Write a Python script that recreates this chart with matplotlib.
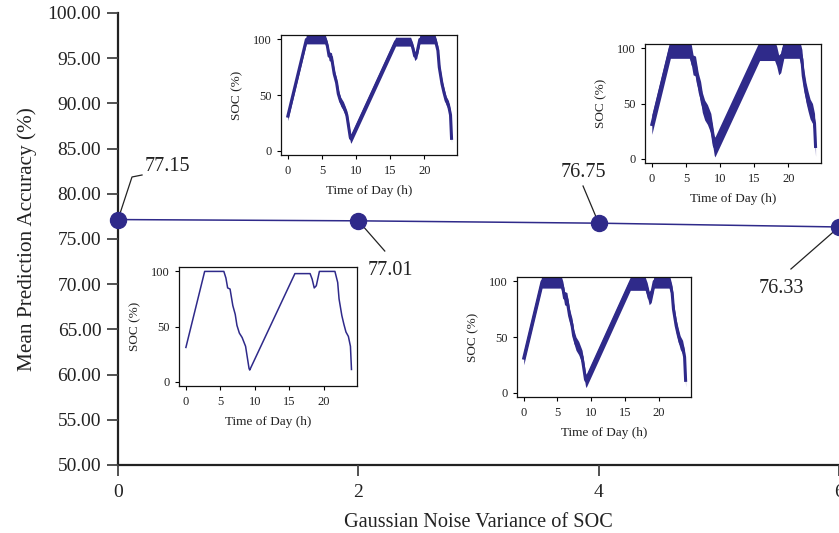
import matplotlib
matplotlib.use('Agg')
import matplotlib.pyplot as plt
import numpy as np

# ---------------- data ----------------
variance = [0, 2, 4, 6]
accuracy = [77.15, 77.01, 76.75, 76.33]
acc_labels = ['77.15', '77.01', '76.75', '76.33']

y_ticks = [50, 55, 60, 65, 70, 75, 80, 85, 90, 95, 100]
x_ticks = [0, 2, 4, 6]

# daily SOC profile (clean trace)
hours = [0, 2.72, 5.5, 5.8, 6.05, 6.4, 6.8, 7.15, 7.4, 7.75, 8.15, 8.65, 9.15, 9.25,
         15.8, 18.0, 18.3, 18.6, 18.9, 19.35, 21.6, 22.0, 22.2, 22.6, 22.9, 23.2,
         23.55, 23.85, 24.0]
soc = [31, 100, 100, 94, 85, 84, 69, 61, 51, 44, 40, 32, 12, 10.5,
       98, 98, 93, 85, 87, 100, 100, 90, 75, 60, 52, 45,
       41, 32, 11]
# visible spread (half width, % SOC) of the noisy traces for each variance
noise_spread = [0, 4, 6, 9]

inset_xticks = [0, 5, 10, 15, 20]
inset_yticks = [0, 50, 100]

# ---------------- style / layout ----------------
C = '#2f2a8a'
plt.rcParams['font.family'] = ['Liberation Serif', 'DejaVu Serif']

W, H = 839, 533
fig = plt.figure(figsize=(W / 100, H / 100), dpi=100)

def px_rect(l, r, t, b):
    return [l / W, (H - b) / H, (r - l) / W, (b - t) / H]

ax = fig.add_axes(px_rect(118, 839, 13, 465))
ax.plot(variance, accuracy, color=C, lw=1.1, marker='o', ms=11.5,
        clip_on=False, zorder=3)
ax.set_xlim(0, 6)
ax.set_ylim(50, 100)
ax.set_xticks(x_ticks)
ax.set_xticklabels([str(v) for v in x_ticks])
ax.set_yticks(y_ticks)
ax.set_yticklabels([f'{v:.2f}' for v in y_ticks])
for sname in ['top', 'right']:
    ax.spines[sname].set_visible(False)
for sname in ['left', 'bottom']:
    ax.spines[sname].set_linewidth(1.6)
    ax.spines[sname].set_color('#222222')
    ax.spines[sname].set_zorder(1)
ax.tick_params(axis='both', direction='out', length=8, width=1.3,
               color='#444444', labelsize=14, labelcolor='#222222')
ax.tick_params(axis='x', pad=6)
ax.tick_params(axis='y', pad=4)
ax.set_xlabel('Gaussian Noise Variance of SOC', fontsize=14.6, color='#222222',
              labelpad=8)
ax.set_ylabel('Mean Prediction Accuracy (%)', fontsize=15.3, color='#222222',
              labelpad=8)

# annotation layout: (leader path points in axes data coords, text position)
ann_layout = [
    ([(0.1165, 81.86), (0.2, 82.08)], (0.225, 83.0), 'left'),
    ([(2.22, 73.67)], (2.263, 71.57), 'center'),
    ([(3.87, 80.86)], (3.87, 82.4), 'center'),
    ([(5.60, 71.68)], (5.52, 69.5), 'center'),
]
for (xv, yv, lab, (path, tpos, ha)) in zip(variance, accuracy, acc_labels, ann_layout):
    xs = [xv] + [p[0] for p in path]
    ys = [yv] + [p[1] for p in path]
    ax.plot(xs, ys, color='#222222', lw=0.9, zorder=2, clip_on=False)
    ax.text(tpos[0], tpos[1], lab, ha=ha, va='center', fontsize=14.5,
            color='#222222')

# insets (one per variance)
inset_rects = [
    px_rect(179, 357, 267, 386),   # variance 0
    px_rect(281, 457, 35, 155),    # variance 2
    px_rect(517, 691, 277, 397),   # variance 4
    px_rect(645, 821, 44, 163),    # variance 6
]
h = np.array(hours, dtype=float)
s = np.array(soc, dtype=float)
for rect, spread in zip(inset_rects, noise_spread):
    ia = fig.add_axes(rect)
    if spread > 0:
        ia.fill_between(h, s - spread, s + spread, color=C, lw=0)
        ia.plot(h, s, color=C, lw=2.2)
    else:
        ia.plot(h, s, color=C, lw=1.1)
    ia.set_xlim(-1, 24.8)
    ia.set_ylim(-4, 104)
    ia.set_xticks(inset_xticks)
    ia.set_yticks(inset_yticks)
    for sp in ia.spines.values():
        sp.set_linewidth(0.9)
        sp.set_color('#111111')
    ia.tick_params(direction='out', length=3, width=0.8, labelsize=9,
                   labelcolor='#222222')
    ia.tick_params(axis='x', pad=4)
    ia.tick_params(axis='y', pad=4)
    ia.set_xlabel('Time of Day (h)', fontsize=9.5, labelpad=6, color='#222222')
    ia.set_ylabel('SOC (%)', fontsize=9.5, labelpad=7, color='#222222')

fig.savefig('out.png', dpi=100)
